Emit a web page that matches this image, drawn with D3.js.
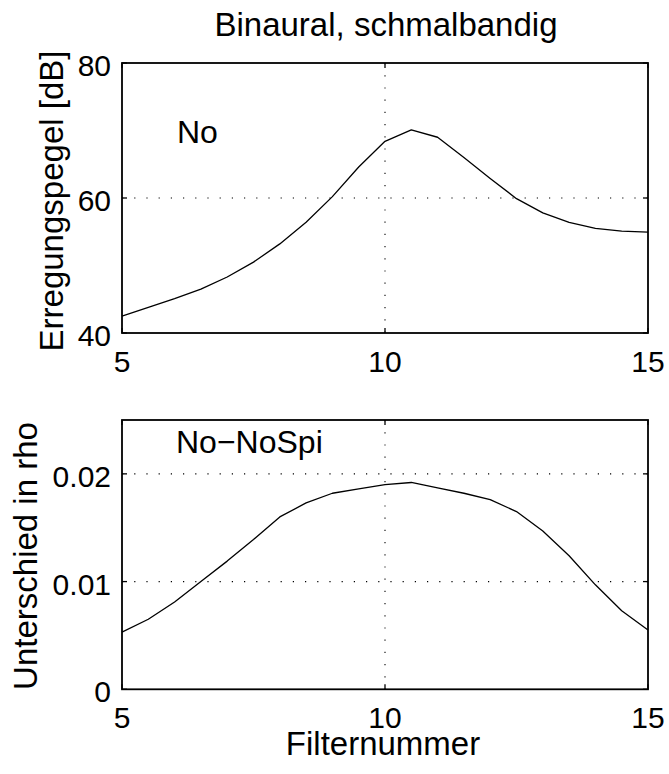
<!DOCTYPE html>
<html>
<head>
<meta charset="utf-8">
<script src="https://cdn.jsdelivr.net/npm/d3@7"></script>
<style>
  html, body { margin: 0; padding: 0; background: #fff; }
  svg { display: block; }
  text { font-family: "Liberation Sans", Arial, Helvetica, sans-serif; fill: #000; }
</style>
</head>
<body>
<svg id="chart" width="669" height="774"></svg>
<script>
// ---- data ----
const filterNumbers = [5, 5.5, 6, 6.5, 7, 7.5, 8, 8.5, 9, 9.5, 10, 10.5, 11, 11.5, 12, 12.5, 13, 13.5, 14, 14.5, 15];
const excitationLevel = [42.5, 43.8, 45.1, 46.5, 48.3, 50.5, 53.2, 56.4, 60.2, 64.6, 68.4, 70.1, 69.0, 66.0, 62.9, 59.9, 57.8, 56.4, 55.5, 55.1, 54.95];
const rhoDifference = [0.0053, 0.0065, 0.0081, 0.0100, 0.0119, 0.0139, 0.0160, 0.0173, 0.0182, 0.0186, 0.0190, 0.0192, 0.0187, 0.0182, 0.0176, 0.0165, 0.0147, 0.0124, 0.0097, 0.0073, 0.0055];
const xTicks = [5, 10, 15];
const topYTicks = [40, 60, 80];
const bottomYTicks = [0, 0.01, 0.02];
const bottomYTickLabels = ["0", "0.01", "0.02"];
const xGrid = [10];
const topYGrid = [60];
const bottomYGrid = [0.01, 0.02];

const titleText = "Binaural, schmalbandig";
const xLabelText = "Filternummer";
const topYLabelText = "Erregungspegel [dB]";
const bottomYLabelText = "Unterschied in rho";
const topAnnotation = "No";
const bottomAnnotation = "No\u2212NoSpi";

// ---- layout ----
const svg = d3.select("#chart");
const left = 122, right = 648;
const panels = [
  { top: 63, bottom: 333, domain: [40, 80], values: excitationLevel, yTicks: topYTicks,
    yTickLabels: topYTicks.map(String), yGrid: topYGrid, label: topYLabelText, labelX: 63, labelY: 201,
    ann: topAnnotation, annX: 177, annY: 143 },
  { top: 420, bottom: 689.3, domain: [0, 0.025], values: rhoDifference, yTicks: bottomYTicks,
    yTickLabels: bottomYTickLabels, yGrid: bottomYGrid, label: bottomYLabelText, labelX: 37, labelY: 556,
    ann: bottomAnnotation, annX: 176, annY: 453 }
];

const x = d3.scaleLinear().domain([5, 15]).range([left, right]);
const tickLen = 5;

panels.forEach(p => {
  const y = d3.scaleLinear().domain(p.domain).range([p.bottom, p.top]);
  const g = svg.append("g");

  // grid (dotted)
  g.selectAll(".gx").data(xGrid).enter().append("line")
    .attr("x1", d => x(d)).attr("x2", d => x(d))
    .attr("y1", p.top).attr("y2", p.bottom)
    .attr("stroke", "#000").attr("stroke-width", 1.1)
    .attr("stroke-dasharray", "1.2,11");
  g.selectAll(".gy").data(p.yGrid).enter().append("line")
    .attr("x1", left).attr("x2", right)
    .attr("y1", d => y(d)).attr("y2", d => y(d))
    .attr("stroke", "#000").attr("stroke-width", 1.1)
    .attr("stroke-dasharray", "1.2,11");

  // ticks inward on all four sides
  xTicks.forEach(t => {
    g.append("line").attr("x1", x(t)).attr("x2", x(t)).attr("y1", p.bottom).attr("y2", p.bottom - tickLen)
      .attr("stroke", "#000").attr("stroke-width", 1.3);
    g.append("line").attr("x1", x(t)).attr("x2", x(t)).attr("y1", p.top).attr("y2", p.top + tickLen)
      .attr("stroke", "#000").attr("stroke-width", 1.3);
  });
  p.yTicks.forEach(t => {
    g.append("line").attr("x1", left).attr("x2", left + tickLen).attr("y1", y(t)).attr("y2", y(t))
      .attr("stroke", "#000").attr("stroke-width", 1.3);
    g.append("line").attr("x1", right).attr("x2", right - tickLen).attr("y1", y(t)).attr("y2", y(t))
      .attr("stroke", "#000").attr("stroke-width", 1.3);
  });

  // curve
  const line = d3.line().x((d, i) => x(filterNumbers[i])).y(d => y(d));
  g.append("path").datum(p.values).attr("d", line)
    .attr("fill", "none").attr("stroke", "#000").attr("stroke-width", 1.3)
    .attr("stroke-linejoin", "round");

  // frame
  g.append("rect").attr("x", left).attr("y", p.top)
    .attr("width", right - left).attr("height", p.bottom - p.top)
    .attr("fill", "none").attr("stroke", "#000").attr("stroke-width", 1.8);

  // tick labels
  g.selectAll(".xl").data(xTicks).enter().append("text")
    .attr("x", d => x(d)).attr("y", p.bottom + 39)
    .attr("text-anchor", "middle").attr("font-size", 30)
    .text(d => d);
  g.selectAll(".yl").data(p.yTicks).enter().append("text")
    .attr("x", 111).attr("y", d => y(d) + 13)
    .attr("text-anchor", "end").attr("font-size", 30)
    .text((d, i) => p.yTickLabels[i]);

  // y label
  g.append("text")
    .attr("transform", `translate(${p.labelX},${p.labelY}) rotate(-90)`)
    .attr("text-anchor", "middle").attr("font-size", 33)
    .text(p.label);

  // annotation
  g.append("text").attr("x", p.annX).attr("y", p.annY)
    .attr("font-size", 32).text(p.ann);
});

// title and x label
svg.append("text").attr("x", 386).attr("y", 36).attr("text-anchor", "middle")
  .attr("font-size", 33).text(titleText);
svg.append("text").attr("x", 383).attr("y", 755).attr("text-anchor", "middle")
  .attr("font-size", 33).text(xLabelText);
</script>
</body>
</html>
